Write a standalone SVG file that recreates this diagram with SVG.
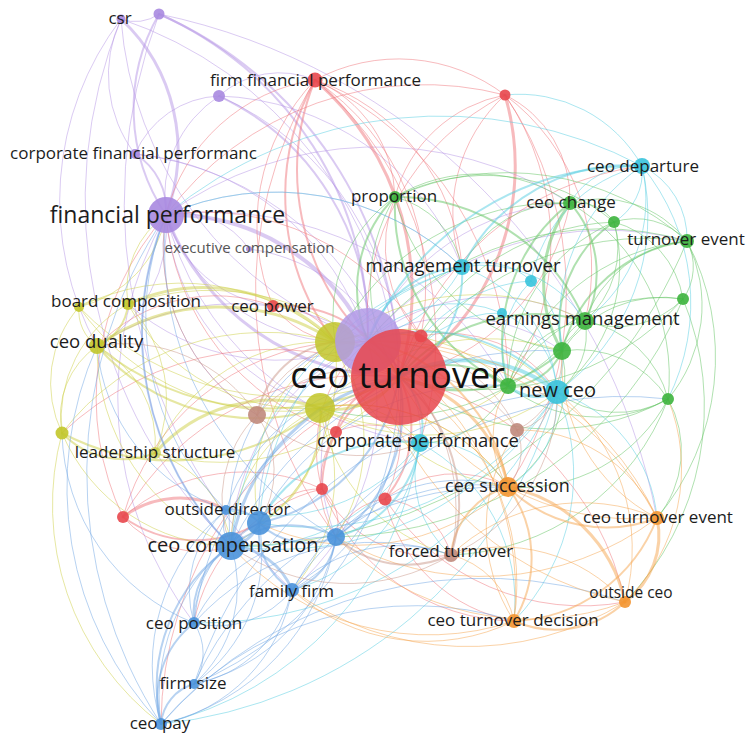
<svg xmlns="http://www.w3.org/2000/svg" width="748" height="735" viewBox="0 0 748 735">
<style>
.bg{fill:#ffffff}
#connectors path{fill:none;stroke-width:1;stroke-opacity:.5;stroke-linecap:round}
#connectors .w2{stroke-width:2}
#connectors .w3{stroke-width:3}
#connectors .w4{stroke-width:4}
.ep{stroke:#b596e6}.er{stroke:#f0767b}.ey{stroke:#cdd045}.eg{stroke:#62c462}.ec{stroke:#55cde2}.el{stroke:#6fa6e3}.eo{stroke:#f5a650}.eb{stroke:#c9978a}
.np{fill:#a98ae0}.nr{fill:#e8474d}.ny{fill:#c2c62a}.ng{fill:#3db43d}.nc{fill:#37c3dc}.nl{fill:#4a92da}.no{fill:#f39530}.nb{fill:#c08a7c}
circle{fill-opacity:.9}
.big{fill-opacity:.85}
text{font-family:"Open Sans","Noto Sans","DejaVu Sans",sans-serif;font-size:17px;fill:#1c1c1c;text-anchor:middle}
</style>
<rect class="bg" x="0" y="0" width="748" height="735"/>
<g id="connectors">
<g class="ep">
<path d="M121 19A40 40 0 0 0 159 14"/>
<path class="w3" d="M121 19A180 180 0 0 1 166 215"/>
<path d="M121 19A130 130 0 0 0 135 154"/>
<path d="M121 19A370 370 0 0 0 368 341"/>
<path d="M121 19A410 410 0 0 1 399 377"/>
<path d="M121 19A480 480 0 0 0 231 546"/>
<path d="M121 19A300 300 0 0 0 97 346"/>
<path class="w2" d="M159 14A190 190 0 0 0 166 215"/>
<path class="w2" d="M159 14A350 350 0 0 1 368 341"/>
<path class="w2" d="M159 14A400 400 0 0 1 399 377"/>
<path d="M159 14A640 640 0 0 1 657 518"/>
<path d="M159 14A530 530 0 0 0 292 590"/>
<path d="M219 96A120 120 0 0 0 166 215"/>
<path class="w2" d="M219 96A260 260 0 0 1 368 341"/>
<path d="M219 96A300 300 0 0 1 399 377"/>
<path d="M219 96A95 95 0 0 0 135 154"/>
<path d="M219 96A270 270 0 0 1 462 267"/>
<path d="M219 96A90 90 0 0 1 315 80"/>
<path class="w2" d="M135 154A65 65 0 0 1 166 215"/>
<path d="M135 154A310 310 0 0 1 399 377"/>
<path d="M135 154A270 270 0 0 1 368 341"/>
<path class="w4" d="M166 215A215 215 0 0 1 368 341"/>
<path class="w3" d="M166 215A250 250 0 0 0 399 377"/>
<path d="M166 215A190 190 0 0 0 335 342"/>
<path d="M166 215A135 135 0 0 1 97 346"/>
<path d="M166 215A300 300 0 0 0 231 546"/>
<path d="M166 215A305 305 0 0 0 420 443"/>
<path d="M166 215A125 125 0 0 0 273 306"/>
<path d="M166 215A340 340 0 0 1 508 386"/>
<path d="M166 215A270 270 0 0 1 462 267"/>
<path d="M166 215A195 195 0 0 0 257 415"/>
<path d="M166 215A220 220 0 0 0 320 408"/>
<path d="M166 215A360 360 0 0 1 570 203"/>
<path d="M166 215A370 370 0 0 0 194 623"/>
<path d="M249 249A80 80 0 0 0 166 215"/>
<path d="M249 249A180 180 0 0 1 399 377"/>
<path d="M368 341A195 195 0 0 1 585 321"/>
<path class="w3" d="M368 341A45 45 0 0 1 399 377"/>
<path d="M368 341A230 230 0 0 1 570 203"/>
<path d="M368 341A310 310 0 0 1 687 241"/>
<path d="M368 341A230 230 0 0 0 231 546"/>
<path d="M368 341A185 185 0 0 0 336 537"/>
<path d="M368 341A250 250 0 0 0 97 346"/>
<path d="M368 341A225 225 0 0 1 128 304"/>
<path d="M368 341A180 180 0 0 1 562 351"/>
<path d="M368 341A105 105 0 0 1 420 443"/>
<path d="M368 341A240 240 0 0 1 292 590"/>
</g>
<g class="er">
<path class="w3" d="M315 80A280 280 0 0 1 399 377"/>
<path class="w2" d="M315 80A240 240 0 0 0 368 341"/>
<path class="w2" d="M315 80A240 240 0 0 0 335 342"/>
<path d="M315 80A215 215 0 0 1 462 267"/>
<path d="M315 80A130 130 0 0 1 395 197"/>
<path d="M315 80A180 180 0 0 0 166 215"/>
<path d="M315 80A250 250 0 0 1 421 336"/>
<path d="M315 80A410 410 0 0 0 336 537"/>
<path d="M315 80A340 340 0 0 1 420 443"/>
<path d="M315 80A210 210 0 0 0 273 306"/>
<path d="M315 80A330 330 0 0 1 508 386"/>
<path class="w3" d="M505 95A250 250 0 0 1 399 377"/>
<path d="M505 95A320 320 0 0 0 166 215"/>
<path d="M505 95A140 140 0 0 0 395 197"/>
<path d="M505 95A260 260 0 0 1 508 386"/>
<path d="M505 95A215 215 0 0 1 585 321"/>
<path d="M505 95A160 160 0 0 0 462 267"/>
<path d="M505 95A115 115 0 0 1 570 203"/>
<path d="M505 95A175 175 0 0 0 315 80"/>
<path d="M505 95A250 250 0 0 0 368 341"/>
<path d="M505 95A350 350 0 0 1 508 487"/>
<path class="w2" d="M273 306A130 130 0 0 1 399 377"/>
<path d="M273 306A65 65 0 0 1 335 342"/>
<path d="M273 306A165 165 0 0 0 97 346"/>
<path d="M273 306A95 95 0 0 0 368 341"/>
<path d="M421 336A130 130 0 0 1 395 197"/>
<path d="M421 336A250 250 0 0 0 166 215"/>
<path d="M421 336A130 130 0 0 1 557 392"/>
<path class="w3" d="M123 517A95 95 0 0 1 226 510"/>
<path class="w2" d="M123 517A125 125 0 0 0 259 523"/>
<path d="M123 517A280 280 0 0 1 399 377"/>
<path d="M123 517A100 100 0 0 0 231 546"/>
<path d="M123 517A275 275 0 0 1 166 215"/>
<path d="M123 517A240 240 0 0 1 335 342"/>
<path d="M123 517A185 185 0 0 1 322 489"/>
<path class="w2" d="M336 432A75 75 0 0 1 399 377"/>
<path class="w2" d="M322 489A120 120 0 0 1 399 377"/>
<path class="w2" d="M385 499A110 110 0 0 0 399 377"/>
<path d="M336 432A95 95 0 0 0 336 537"/>
<path d="M322 489A45 45 0 0 1 336 537"/>
<path d="M385 499A60 60 0 0 0 336 537"/>
<path d="M385 499A110 110 0 0 1 508 487"/>
<path d="M322 489A125 125 0 0 0 451 555"/>
<path d="M385 499A75 75 0 0 1 451 555"/>
<path d="M322 489A70 70 0 0 0 259 523"/>
<path d="M336 432A80 80 0 0 1 420 443"/>
<path d="M336 432A250 250 0 0 1 166 215"/>
<path d="M322 489A140 140 0 0 1 368 341"/>
<path d="M385 499A145 145 0 0 0 368 341"/>
<path d="M322 489A210 210 0 0 0 514 621"/>
<path d="M385 499A160 160 0 0 0 514 621"/>
<path d="M385 499A235 235 0 0 0 625 602"/>
<path d="M322 489A170 170 0 0 0 194 623"/>
<path d="M399 377A220 220 0 0 0 570 203"/>
<path d="M399 377A290 290 0 0 1 642 166"/>
<path d="M399 377A290 290 0 0 1 625 602"/>
<path d="M399 377A375 375 0 0 0 161 724"/>
<path d="M399 377A305 305 0 0 0 62 433"/>
</g>
<g class="ey">
<path d="M399 377A295 295 0 0 1 79 307"/>
<path d="M399 377A250 250 0 0 0 128 304"/>
<path class="w2" d="M399 377A275 275 0 0 1 97 346"/>
<path d="M399 377A230 230 0 0 1 155 453"/>
<path class="w3" d="M399 377A70 70 0 0 0 335 342"/>
<path class="w3" d="M399 377A80 80 0 0 1 320 408"/>
<path class="w2" d="M128 304A50 50 0 0 1 97 346"/>
<path d="M79 307A42 42 0 0 0 97 346"/>
<path d="M79 307A45 45 0 0 1 128 304"/>
<path d="M79 307A115 115 0 0 0 62 433"/>
<path d="M128 304A130 130 0 0 0 62 433"/>
<path class="w3" d="M128 304A185 185 0 0 1 335 342"/>
<path class="w3" d="M97 346A210 210 0 0 1 335 342"/>
<path class="w2" d="M97 346A210 210 0 0 0 320 408"/>
<path d="M62 433A255 255 0 0 1 335 342"/>
<path class="w2" d="M62 433A235 235 0 0 0 320 408"/>
<path d="M62 433A85 85 0 0 1 97 346"/>
<path class="w2" d="M62 433A85 85 0 0 0 155 453"/>
<path d="M155 453A185 185 0 0 1 335 342"/>
<path class="w3" d="M155 453A155 155 0 0 1 320 408"/>
<path d="M155 453A110 110 0 0 1 231 546"/>
<path d="M79 307A230 230 0 0 1 335 342"/>
<path d="M79 307A245 245 0 0 0 320 408"/>
<path d="M128 304A200 200 0 0 0 320 408"/>
<path d="M62 433A185 185 0 0 0 231 546"/>
<path d="M62 433A275 275 0 0 0 161 724"/>
<path d="M97 346A215 215 0 0 0 231 546"/>
<path d="M128 304A135 135 0 0 1 155 453"/>
<path d="M97 346A110 110 0 0 1 155 453"/>
<path d="M320 408A95 95 0 0 1 420 443"/>
<path d="M335 342A165 165 0 0 1 508 386"/>
<path d="M335 342A170 170 0 0 0 259 523"/>
<path d="M320 408A150 150 0 0 0 231 546"/>
<path d="M128 304A90 90 0 0 1 166 215"/>
<path d="M79 307A115 115 0 0 0 166 215"/>
<path d="M335 342A235 235 0 0 1 585 321"/>
<path d="M335 342A210 210 0 0 1 557 392"/>
<path d="M335 342A210 210 0 0 0 508 487"/>
<path d="M335 342A205 205 0 0 1 231 546"/>
<path d="M335 342A180 180 0 0 1 336 537"/>
<path d="M320 408A235 235 0 0 1 562 351"/>
<path d="M320 408A220 220 0 0 0 557 392"/>
<path d="M320 408A185 185 0 0 1 508 487"/>
<path d="M320 408A170 170 0 0 1 292 590"/>
<path class="w2" d="M320 408A120 120 0 0 1 259 523"/>
<path d="M320 408A180 180 0 0 0 451 555"/>
<path d="M320 408A175 175 0 0 0 508 386"/>
</g>
<g class="eg">
<path d="M399 377A165 165 0 0 1 395 197"/>
<path d="M399 377A240 240 0 0 1 614 222"/>
<path d="M399 377A290 290 0 0 1 687 241"/>
<path d="M399 377A270 270 0 0 0 683 299"/>
<path class="w2" d="M399 377A180 180 0 0 1 585 321"/>
<path class="w2" d="M399 377A150 150 0 0 0 562 351"/>
<path class="w2" d="M399 377A100 100 0 0 1 508 386"/>
<path d="M399 377A245 245 0 0 0 668 399"/>
<path d="M395 197A160 160 0 0 1 570 203"/>
<path class="w2" d="M395 197A205 205 0 0 1 585 321"/>
<path d="M395 197A205 205 0 0 0 562 351"/>
<path class="w2" d="M395 197A200 200 0 0 0 508 386"/>
<path class="w2" d="M395 197A130 130 0 0 0 368 341"/>
<path d="M395 197A145 145 0 0 0 335 342"/>
<path d="M395 197A90 90 0 0 1 462 267"/>
<path d="M395 197A270 270 0 0 1 687 241"/>
<path d="M395 197A200 200 0 0 1 614 222"/>
<path d="M570 203A45 45 0 0 1 614 222"/>
<path d="M570 203A110 110 0 0 1 687 241"/>
<path class="w2" d="M570 203A105 105 0 0 1 585 321"/>
<path class="w3" d="M570 203A135 135 0 0 0 562 351"/>
<path class="w2" d="M570 203A175 175 0 0 0 508 386"/>
<path d="M570 203A115 115 0 0 0 462 267"/>
<path d="M570 203A200 200 0 0 1 668 399"/>
<path d="M614 222A70 70 0 0 1 687 241"/>
<path d="M614 222A95 95 0 0 1 585 321"/>
<path class="w2" d="M614 222A125 125 0 0 0 562 351"/>
<path d="M614 222A175 175 0 0 0 508 386"/>
<path d="M614 222A95 95 0 0 1 683 299"/>
<path d="M687 241A120 120 0 0 0 585 321"/>
<path class="w2" d="M687 241A150 150 0 0 0 562 351"/>
<path d="M687 241A210 210 0 0 0 508 386"/>
<path d="M687 241A145 145 0 0 1 668 399"/>
<path d="M687 241A55 55 0 0 1 683 299"/>
<path d="M683 299A120 120 0 0 0 562 351"/>
<path d="M683 299A175 175 0 0 0 508 386"/>
<path d="M683 299A92 92 0 0 1 585 321"/>
<path d="M585 321A36 36 0 0 0 562 351"/>
<path d="M585 321A105 105 0 0 1 668 399"/>
<path d="M585 321A92 92 0 0 0 508 386"/>
<path class="w2" d="M562 351A58 58 0 0 1 508 386"/>
<path d="M668 399A105 105 0 0 0 562 351"/>
<path d="M668 399A145 145 0 0 1 508 386"/>
<path d="M668 399A100 100 0 0 1 557 392"/>
<path d="M687 241A300 300 0 0 0 368 341"/>
<path d="M687 241A250 250 0 0 1 657 518"/>
<path d="M668 399A105 105 0 0 1 657 518"/>
<path d="M668 399A165 165 0 0 1 508 487"/>
<path d="M683 299A280 280 0 0 1 625 602"/>
<path d="M614 222A160 160 0 0 1 557 392"/>
<path d="M585 321A70 70 0 0 1 557 392"/>
<path d="M508 386A95 95 0 0 1 420 443"/>
<path d="M562 351A130 130 0 0 1 508 487"/>
<path d="M668 399A240 240 0 0 1 451 555"/>
<path d="M683 299A380 380 0 0 1 336 537"/>
<path d="M687 241A490 490 0 0 1 231 546"/>
<path d="M585 321A250 250 0 0 1 320 408"/>
<path d="M570 203A250 250 0 0 0 335 342"/>
</g>
<g class="ec">
<path class="w2" d="M399 377A115 115 0 0 0 462 267"/>
<path d="M399 377A150 150 0 0 1 531 281"/>
<path d="M399 377A110 110 0 0 1 502 313"/>
<path class="w4" d="M399 377A145 145 0 0 1 557 392"/>
<path class="w2" d="M399 377A62 62 0 0 1 420 443"/>
<path class="w2" d="M642 166A185 185 0 0 0 462 267"/>
<path d="M642 166A75 75 0 0 0 570 203"/>
<path d="M642 166A58 58 0 0 1 614 222"/>
<path d="M642 166A215 215 0 0 1 557 392"/>
<path d="M642 166A80 80 0 0 1 687 241"/>
<path d="M642 166A430 430 0 0 0 166 215"/>
<path d="M642 166A140 140 0 0 0 505 95"/>
<path d="M642 166A145 145 0 0 0 531 281"/>
<path d="M642 166A185 185 0 0 0 562 351"/>
<path class="w2" d="M642 166A290 290 0 0 0 368 341"/>
<path d="M642 166A150 150 0 0 1 585 321"/>
<path d="M642 166A215 215 0 0 1 668 399"/>
<path d="M462 267A65 65 0 0 1 531 281"/>
<path d="M462 267A270 270 0 0 0 166 215"/>
<path d="M462 267A140 140 0 0 1 557 392"/>
<path class="w2" d="M462 267A105 105 0 0 0 368 341"/>
<path d="M462 267A325 325 0 0 0 231 546"/>
<path d="M462 267A120 120 0 0 1 585 321"/>
<path d="M462 267A140 140 0 0 1 335 342"/>
<path d="M531 281A105 105 0 0 1 557 392"/>
<path d="M531 281A100 100 0 0 0 508 386"/>
<path d="M502 313A88 88 0 0 1 557 392"/>
<path d="M502 313A120 120 0 0 0 368 341"/>
<path class="w3" d="M557 392A45 45 0 0 1 508 386"/>
<path d="M557 392A100 100 0 0 1 508 487"/>
<path d="M557 392A295 295 0 0 1 259 523"/>
<path d="M557 392A325 325 0 0 1 231 546"/>
<path d="M557 392A145 145 0 0 1 657 518"/>
<path d="M557 392A210 210 0 0 1 514 621"/>
<path class="w2" d="M557 392A175 175 0 0 0 368 341"/>
<path class="w2" d="M420 443A115 115 0 0 1 336 537"/>
<path d="M420 443A90 90 0 0 1 508 487"/>
<path d="M420 443A195 195 0 0 1 231 546"/>
<path class="w2" d="M420 443A160 160 0 0 0 259 523"/>
<path d="M420 443A105 105 0 0 0 451 555"/>
<path d="M420 443A340 340 0 0 1 161 724"/>
<path d="M420 443A180 180 0 0 1 514 621"/>
<path d="M420 443A185 185 0 0 1 226 510"/>
<path d="M420 443A175 175 0 0 1 292 590"/>
<path d="M462 267A290 290 0 0 0 259 523"/>
<path d="M557 392A460 460 0 0 1 161 724"/>
<path d="M557 392A390 390 0 0 1 194 623"/>
</g>
<g class="el">
<path d="M399 377A195 195 0 0 0 226 510"/>
<path class="w2" d="M399 377A180 180 0 0 1 259 523"/>
<path class="w3" d="M399 377A210 210 0 0 0 231 546"/>
<path class="w2" d="M399 377A155 155 0 0 1 336 537"/>
<path d="M399 377A215 215 0 0 1 292 590"/>
<path d="M399 377A290 290 0 0 0 194 623"/>
<path d="M399 377A330 330 0 0 1 194 684"/>
<path class="w2" d="M226 510A35 35 0 0 1 259 523"/>
<path d="M226 510A35 35 0 0 0 231 546"/>
<path class="w3" d="M259 523A35 35 0 0 1 231 546"/>
<path class="w2" d="M259 523A70 70 0 0 0 336 537"/>
<path class="w2" d="M231 546A95 95 0 0 1 336 537"/>
<path class="w3" d="M231 546A70 70 0 0 1 292 590"/>
<path class="w2" d="M259 523A70 70 0 0 0 292 590"/>
<path class="w2" d="M336 537A62 62 0 0 1 292 590"/>
<path class="w2" d="M231 546A80 80 0 0 0 194 623"/>
<path d="M231 546A130 130 0 0 1 194 684"/>
<path class="w2" d="M231 546A170 170 0 0 0 161 724"/>
<path class="w2" d="M194 623A95 95 0 0 0 161 724"/>
<path d="M194 623A55 55 0 0 1 194 684"/>
<path class="w2" d="M194 684A45 45 0 0 0 161 724"/>
<path d="M259 523A200 200 0 0 0 161 724"/>
<path d="M259 523A110 110 0 0 0 194 623"/>
<path d="M259 523A160 160 0 0 1 194 684"/>
<path d="M336 537A230 230 0 0 1 161 724"/>
<path d="M336 537A185 185 0 0 1 194 684"/>
<path d="M336 537A150 150 0 0 0 194 623"/>
<path d="M292 590A95 95 0 0 1 194 623"/>
<path d="M292 590A165 165 0 0 1 161 724"/>
<path d="M292 590A122 122 0 0 1 194 684"/>
<path d="M226 510A200 200 0 0 0 161 724"/>
<path d="M226 510A108 108 0 0 0 194 623"/>
<path class="w2" d="M231 546A300 300 0 0 1 166 215"/>
<path d="M259 523A190 190 0 0 1 368 341"/>
<path d="M231 546A200 200 0 0 1 335 342"/>
<path d="M336 537A330 330 0 0 1 166 215"/>
<path d="M226 510A270 270 0 0 1 166 215"/>
<path d="M161 724A330 330 0 0 1 514 621"/>
<path d="M161 724A430 430 0 0 1 625 602"/>
<path d="M194 684A335 335 0 0 1 508 487"/>
<path d="M194 623A240 240 0 0 1 451 555"/>
<path d="M194 684A420 420 0 0 1 557 392"/>
<path d="M292 590A215 215 0 0 1 508 487"/>
<path d="M292 590A150 150 0 0 1 451 555"/>
<path d="M336 537A165 165 0 0 1 508 487"/>
<path d="M259 523A255 255 0 0 1 508 386"/>
<path d="M231 546A345 345 0 0 1 562 351"/>
<path d="M161 724A460 460 0 0 1 166 215"/>
<path d="M161 724A345 345 0 0 1 97 346"/>
<path d="M194 623A210 210 0 0 1 62 433"/>
<path d="M226 510A190 190 0 0 1 97 346"/>
<path d="M292 590A380 380 0 0 1 668 399"/>
</g>
<g class="eo">
<path class="w3" d="M399 377A140 140 0 0 1 508 487"/>
<path d="M399 377A265 265 0 0 0 657 518"/>
<path d="M399 377A240 240 0 0 1 514 621"/>
<path class="w2" d="M508 487A140 140 0 0 0 657 518"/>
<path class="w3" d="M508 487A150 150 0 0 1 625 602"/>
<path class="w2" d="M508 487A120 120 0 0 1 514 621"/>
<path class="w3" d="M657 518A82 82 0 0 1 625 602"/>
<path class="w2" d="M657 518A160 160 0 0 1 514 621"/>
<path class="w2" d="M625 602A102 102 0 0 1 514 621"/>
<path class="w2" d="M508 487A78 78 0 0 0 451 555"/>
<path d="M514 621A85 85 0 0 0 451 555"/>
<path d="M625 602A165 165 0 0 0 451 555"/>
<path d="M657 518A190 190 0 0 0 451 555"/>
<path d="M514 621A265 265 0 0 1 231 546"/>
<path d="M625 602A300 300 0 0 1 292 590"/>
<path d="M625 602A270 270 0 0 1 336 537"/>
<path d="M657 518A290 290 0 0 1 336 537"/>
<path d="M514 621A200 200 0 0 1 292 590"/>
<path d="M625 602A200 200 0 0 0 557 392"/>
<path class="w2" d="M508 487A180 180 0 0 0 368 341"/>
<path d="M657 518A305 305 0 0 0 368 341"/>
<path d="M625 602A330 330 0 0 1 368 341"/>
<path d="M514 621A285 285 0 0 0 368 341"/>
<path d="M508 487A92 92 0 0 1 508 386"/>
<path d="M657 518A175 175 0 0 1 562 351"/>
<path d="M625 602A185 185 0 0 0 668 399"/>
<path d="M508 487A225 225 0 0 1 259 523"/>
<path d="M508 487A185 185 0 0 0 320 408"/>
<path d="M657 518A335 335 0 0 0 335 342"/>
<path d="M514 621A170 170 0 0 1 517 430"/>
<path d="M657 518A150 150 0 0 0 517 430"/>
</g>
<g class="eb">
<path d="M399 377A130 130 0 0 0 257 415"/>
<path d="M399 377A117 117 0 0 1 517 430"/>
<path class="w2" d="M399 377A165 165 0 0 1 451 555"/>
<path class="w2" d="M257 415A92 92 0 0 1 335 342"/>
<path d="M257 415A195 195 0 0 1 166 215"/>
<path d="M257 415A120 120 0 0 0 231 546"/>
<path d="M257 415A98 98 0 0 1 259 523"/>
<path d="M257 415A158 158 0 0 0 97 346"/>
<path d="M257 415A122 122 0 0 1 368 341"/>
<path d="M257 415A150 150 0 0 0 420 443"/>
<path d="M517 430A50 50 0 0 0 557 392"/>
<path d="M517 430A55 55 0 0 1 508 487"/>
<path d="M517 430A82 82 0 0 0 562 351"/>
<path d="M517 430A155 155 0 0 0 368 341"/>
<path d="M451 555A200 200 0 0 1 231 546"/>
<path class="w2" d="M451 555A105 105 0 0 1 336 537"/>
<path d="M451 555A205 205 0 0 0 368 341"/>
<path d="M451 555A175 175 0 0 0 557 392"/>
</g>
</g>
<g id="node-csr"><circle class="np" cx="121" cy="19" r="4.5"/><text x="120" y="24">csr</text></g>
<g id="node-p2"><circle class="np" cx="159" cy="14" r="5.5"/></g>
<g id="node-p3"><circle class="np" cx="219" cy="96" r="6"/></g>
<g id="node-corporate-financial-performanc"><circle class="np" cx="135" cy="154" r="5"/><text x="133.5" y="158.5">corporate financial performanc</text></g>
<g id="node-financial-performance"><circle class="np" cx="166" cy="215" r="18"/><text x="167.5" y="223" style="font-size:23px">financial performance</text></g>
<g id="node-executive-compensation"><circle class="np" cx="249" cy="249" r="3"/><text x="249.5" y="253" style="font-size:15px;fill:#555">executive compensation</text></g>
<g id="node-firm-financial-performance"><circle class="nr" cx="315" cy="80" r="7.5"/><text x="315.5" y="86">firm financial performance</text></g>
<g id="node-r2"><circle class="nr" cx="505" cy="95" r="5.5"/></g>
<g id="node-ceo-departure"><circle class="nc" cx="642" cy="166" r="8"/><text x="643" y="172">ceo departure</text></g>
<g id="node-proportion"><circle class="ng" cx="395" cy="197" r="6"/><text x="394" y="202">proportion</text></g>
<g id="node-ceo-change"><circle class="ng" cx="570" cy="203" r="7"/><text x="571" y="208">ceo change</text></g>
<g id="node-g3"><circle class="ng" cx="614" cy="222" r="6"/></g>
<g id="node-turnover-event"><circle class="ng" cx="687" cy="241" r="7"/><text x="686" y="245">turnover event</text></g>
<g id="node-management-turnover"><circle class="nc" cx="462" cy="267" r="8"/><text x="463" y="272" style="font-size:18.5px">management turnover</text></g>
<g id="node-c3"><circle class="nc" cx="531" cy="281" r="6"/></g>
<g id="node-g5"><circle class="ng" cx="683" cy="299" r="6"/></g>
<g id="node-c4"><circle class="nc" cx="502" cy="313" r="5"/></g>
<g id="node-earnings-management"><circle class="ng" cx="585" cy="321" r="9"/><text x="582.5" y="325" style="font-size:18.5px">earnings management</text></g>
<g id="node-g7"><circle class="ng" cx="562" cy="351" r="9"/></g>
<g id="node-g9"><circle class="ng" cx="668" cy="399" r="6"/></g>
<g id="node-y1"><circle class="ny" cx="79" cy="307" r="5"/></g>
<g id="node-board-composition"><circle class="ny" cx="128" cy="304" r="6"/><text x="126" y="307">board composition</text></g>
<g id="node-ceo-power"><circle class="nr" cx="273" cy="306" r="6"/><text x="272.5" y="312">ceo power</text></g>
<g id="node-ceo-duality"><circle class="ny" cx="97" cy="346" r="8"/><text x="96.5" y="348" style="font-size:18.5px">ceo duality</text></g>
<g id="node-y4"><circle class="ny" cx="62" cy="433" r="6.5"/></g>
<g id="node-leadership-structure"><circle class="ny" cx="155" cy="453" r="6" style="fill-opacity:.6"/><text x="155" y="458">leadership structure</text></g>
<g id="node-b1"><circle class="nb" cx="257" cy="415" r="9"/></g>
<g id="node-y6"><circle class="ny big" cx="335" cy="342" r="20"/></g>
<g id="node-y7"><circle class="ny big" cx="320" cy="408" r="15"/></g>
<g id="node-p7"><circle class="np big" cx="368" cy="341" r="33" style="fill:#b29ae6"/></g>
<g id="node-ceo-turnover"><circle class="nr big" cx="399" cy="377" r="48"/><text x="397.5" y="388" style="font-size:36px;fill:#111">ceo turnover</text></g>
<g id="node-r5"><circle class="nr" cx="421" cy="336" r="6.5"/></g>
<g id="node-g8"><circle class="ng" cx="508" cy="386" r="8"/></g>
<g id="node-new-ceo"><circle class="nc" cx="557" cy="392" r="12"/><text x="557.5" y="397" style="font-size:20px">new ceo</text></g>
<g id="node-b2"><circle class="nb" cx="517" cy="430" r="7"/></g>
<g id="node-r6"><circle class="nr" cx="336" cy="432" r="6"/></g>
<g id="node-corporate-performance"><circle class="nc" cx="420" cy="443" r="9"/><text x="418" y="447" style="font-size:18.5px">corporate performance</text></g>
<g id="node-r7"><circle class="nr" cx="322" cy="489" r="6"/></g>
<g id="node-r8"><circle class="nr" cx="385" cy="499" r="6.5"/></g>
<g id="node-ceo-succession"><circle class="no" cx="508" cy="487" r="10"/><text x="507.5" y="492" style="font-size:18px">ceo succession</text></g>
<g id="node-r9"><circle class="nr" cx="123" cy="517" r="6"/></g>
<g id="node-outside-director"><circle class="nl" cx="226" cy="510" r="5"/><text x="227.5" y="515">outside director</text></g>
<g id="node-l2"><circle class="nl" cx="259" cy="523" r="12"/></g>
<g id="node-ceo-compensation"><circle class="nl" cx="231" cy="546" r="14"/><text x="233" y="552" style="font-size:20px">ceo compensation</text></g>
<g id="node-l4"><circle class="nl" cx="336" cy="537" r="9"/></g>
<g id="node-ceo-turnover-event"><circle class="no" cx="657" cy="518" r="7"/><text x="658" y="523">ceo turnover event</text></g>
<g id="node-forced-turnover"><circle class="nb" cx="451" cy="555" r="7"/><text x="451" y="557">forced turnover</text></g>
<g id="node-family-firm"><circle class="nl" cx="292" cy="590" r="7"/><text x="291.5" y="597">family firm</text></g>
<g id="node-outside-ceo"><circle class="no" cx="625" cy="602" r="6"/><text x="631" y="598" style="font-size:15.5px">outside ceo</text></g>
<g id="node-ceo-turnover-decision"><circle class="no" cx="514" cy="621" r="7"/><text x="513" y="626">ceo turnover decision</text></g>
<g id="node-ceo-position"><circle class="nl" cx="194" cy="623" r="6"/><text x="194" y="629">ceo position</text></g>
<g id="node-firm-size"><circle class="nl" cx="194" cy="684" r="5"/><text x="193" y="689">firm size</text></g>
<g id="node-ceo-pay"><circle class="nl" cx="161" cy="724" r="6"/><text x="160" y="729">ceo pay</text></g>
</svg>
